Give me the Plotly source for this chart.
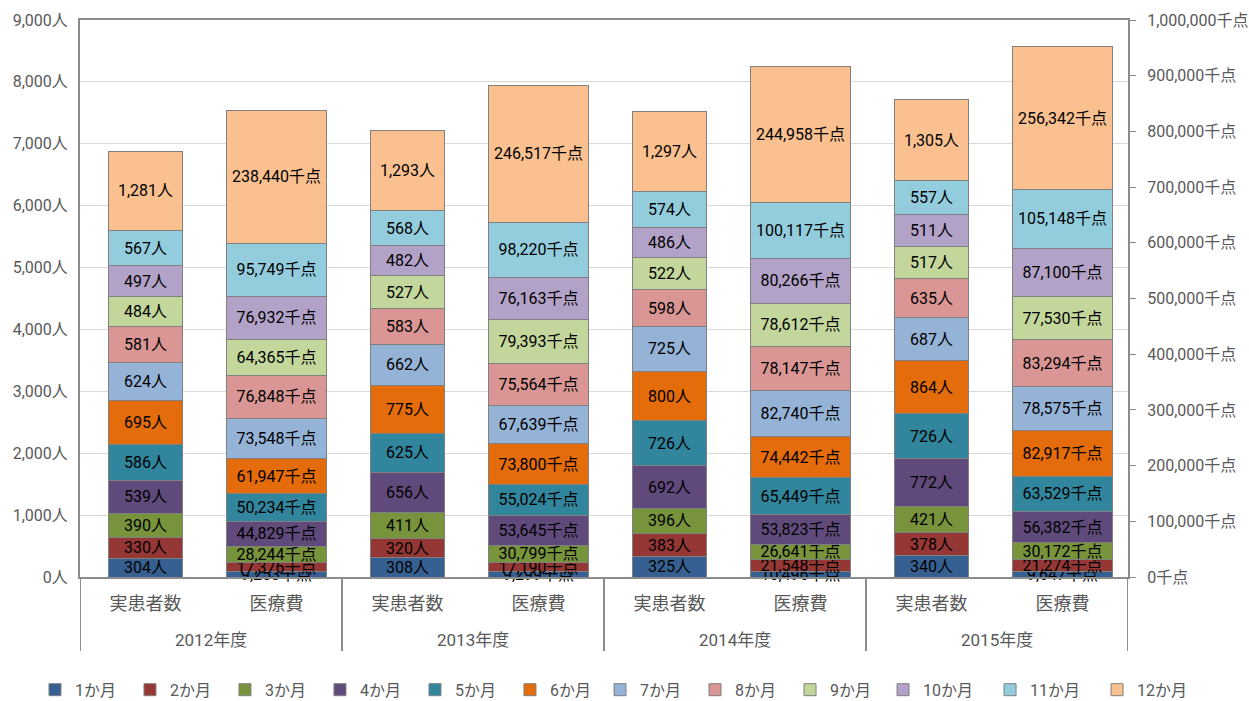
import plotly.graph_objects as go

years = ["2012年度", "2013年度", "2014年度", "2015年度"]
kinds = ["実患者数", "医療費"]
months = ["1か月", "2か月", "3か月", "4か月", "5か月", "6か月",
          "7か月", "8か月", "9か月", "10か月", "11か月", "12か月"]

# 実患者数 (人) per month-bucket, one list per year
patients_2012 = [304, 330, 390, 539, 586, 695, 624, 581, 484, 497, 567, 1281]
patients_2013 = [308, 320, 411, 656, 625, 775, 662, 583, 527, 482, 568, 1293]
patients_2014 = [325, 383, 396, 692, 726, 800, 725, 598, 522, 486, 574, 1297]
patients_2015 = [340, 378, 421, 772, 726, 864, 687, 635, 517, 511, 557, 1305]

# 医療費 (千点) per month-bucket, one list per year
cost_2012 = [9253, 17376, 28244, 44829, 50234, 61947, 73548, 76848, 64365, 76932, 95749, 238440]
cost_2013 = [9299, 17190, 30799, 53645, 55024, 73800, 67639, 75564, 79393, 76163, 98220, 246517]
cost_2014 = [10496, 21548, 26641, 53823, 65449, 74442, 82740, 78147, 78612, 80266, 100117, 244958]
cost_2015 = [9647, 21274, 30172, 56382, 63529, 82917, 78575, 83294, 77530, 87100, 105148, 256342]

patients = [patients_2012, patients_2013, patients_2014, patients_2015]
costs = [cost_2012, cost_2013, cost_2014, cost_2015]

colors = ["#376092", "#953735", "#77933C", "#604A7B", "#31859C", "#E46C0A",
          "#95B3D7", "#D99694", "#C3D69B", "#B3A2C7", "#93CDDD", "#FAC090"]

FONT = "Roboto, 'Noto Sans CJK JP', sans-serif"
GRAY_TEXT = "#595959"
AXIS_LINE = "#8c8c8c"
label_font = dict(family=FONT, size=16, color="#000000")

# slot positions: patients bar then cost bar for each year
pat_x = [2 * k for k in range(len(years))]
cost_x = [2 * k + 1 for k in range(len(years))]

# the legend row is split into three blocks so that it stays on one line
def legend_for(i):
    if i < 6:
        return "legend"
    if i < 9:
        return "legend2"
    return "legend3"

fig = go.Figure()
for i, m in enumerate(months):
    fig.add_trace(go.Bar(
        name=m, legendgroup=m, showlegend=True, legend=legend_for(i),
        x=pat_x, y=[p[i] for p in patients],
        yaxis="y", width=0.56,
        marker=dict(color=colors[i], line=dict(color="#808080", width=1)),
        texttemplate="%{y:,}人", textposition="inside", insidetextanchor="middle",
        textangle=0, insidetextfont=label_font, cliponaxis=False,
        hoverinfo="skip",
    ))
    fig.add_trace(go.Bar(
        name=m, legendgroup=m, showlegend=False, legend=legend_for(i),
        x=cost_x, y=[c[i] for c in costs],
        yaxis="y2", width=0.76,
        marker=dict(color=colors[i], line=dict(color="#808080", width=1)),
        texttemplate="%{y:,}千点", textposition="inside", insidetextanchor="middle",
        textangle=0, insidetextfont=label_font, cliponaxis=False,
        hoverinfo="skip",
    ))

# plot area is 557 px tall; paper offsets below the axis
PLOT_H = 557.0
divider_bottom = -(651 - 577) / PLOT_H
year_y = -(640 - 577) / PLOT_H

# group dividers below the category axis
for k in range(len(years) + 1):
    fig.add_shape(type="line", xref="x", yref="paper",
                  x0=2 * k - 0.5, x1=2 * k - 0.5, y0=0, y1=divider_bottom,
                  line=dict(color=AXIS_LINE, width=2))

# year labels under each pair
for k, yr in enumerate(years):
    fig.add_annotation(x=2 * k + 0.5, xref="x", y=year_y, yref="paper",
                       text=yr, showarrow=False, yanchor="middle",
                       font=dict(size=17, color=GRAY_TEXT, family=FONT))

legend_style = dict(
    orientation="h", xref="container", xanchor="left",
    yref="container", y=0.016, yanchor="middle",
    traceorder="normal", itemwidth=30,
    font=dict(size=16, color=GRAY_TEXT, family=FONT),
)

fig.update_layout(
    width=1249, height=701,
    barmode="stack",
    plot_bgcolor="white", paper_bgcolor="white",
    margin=dict(l=80, r=121, t=20, b=124, autoexpand=False),
    font=dict(family=FONT, color=GRAY_TEXT),
    uniformtext=dict(minsize=16, mode="show"),
    xaxis=dict(
        range=[-0.5, 7.5],
        tickvals=pat_x + cost_x,
        ticktext=[kinds[0]] * len(years) + [kinds[1]] * len(years),
        showline=True, linecolor=AXIS_LINE, linewidth=2, mirror=True,
        showgrid=False, zeroline=False,
        ticks="", ticklabelstandoff=9,
        tickfont=dict(size=18, color=GRAY_TEXT, family=FONT),
    ),
    yaxis=dict(
        range=[0, 9000], dtick=1000, tickformat=",", ticksuffix="人",
        showgrid=True, gridcolor="#d9d9d9", gridwidth=1,
        showline=True, linecolor=AXIS_LINE, linewidth=2,
        ticks="", ticklabelstandoff=7,
        tickfont=dict(size=16, color=GRAY_TEXT, family=FONT),
        zeroline=False,
    ),
    yaxis2=dict(
        range=[0, 1000000], dtick=100000, tickformat=",", ticksuffix="千点",
        overlaying="y", side="right", showgrid=False, automargin=False,
        showline=True, linecolor=AXIS_LINE, linewidth=2,
        ticks="outside", ticklen=6, tickcolor=AXIS_LINE, tickwidth=1,
        ticklabelstandoff=8,
        tickfont=dict(size=16, color=GRAY_TEXT, family=FONT),
        zeroline=False,
    ),
    legend=dict(legend_style, x=0.028, entrywidth=50),
    legend2=dict(legend_style, x=0.4804, entrywidth=50),
    legend3=dict(legend_style, x=0.707, entrywidth=62),
)

fig.write_html("out.html")
